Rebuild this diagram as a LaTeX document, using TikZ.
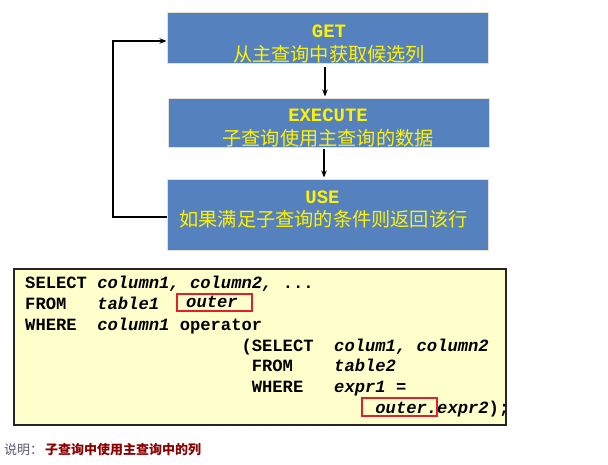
\documentclass[tikz,border=0pt]{standalone}
\usepackage{fontspec}
\setmonofont{Liberation Mono}
\newfontfamily\cjk{Noto Sans CJK SC}
\usetikzlibrary{arrows.meta}
\definecolor{boxblue}{HTML}{5581BF}
\definecolor{boxedge}{HTML}{E4E0D4}
\definecolor{codebg}{HTML}{FFFFCC}
\definecolor{hlred}{HTML}{E0202A}
\definecolor{noteRed}{HTML}{8B0000}
\definecolor{noteGray}{HTML}{5A5A70}
\begin{document}
\begin{tikzpicture}[x=1pt,y=-1pt,
 flowbox/.style={draw=boxedge,line width=1pt,fill=boxblue,minimum width=321pt,inner sep=0},
 head/.style={font=\ttfamily\bfseries\fontsize{18.9}{20}\selectfont,text=yellow,inner sep=0},
 cn/.style={font=\cjk\fontsize{19.2}{22}\selectfont,text=yellow,inner sep=0},
 arr/.style={-{Stealth[length=7pt,width=5.5pt]},line width=1.3pt},
 codeln/.style={font=\ttfamily\bfseries\fontsize{17.17}{20}\selectfont,anchor=base west,inner sep=0},
 hl/.style={draw=hlred,line width=1.5pt,inner sep=0}]
\fill[white] (0,0) rectangle (608,465);
\useasboundingbox (0,0) rectangle (608,465);
% flow boxes
\node[flowbox,minimum height=51pt] (b1) at (327.5,38.5) {};
\node[flowbox,minimum height=49pt] (b2) at (328.5,123.5) {};
\node[flowbox,minimum height=71pt] (b3) at (328,215.5) {};
\node[head] (t1) at (329,31) {GET};
\node[cn] (c1) at (329,54) {从主查询中获取候选列};
\node[head] (t2) at (328,115) {EXECUTE};
\node[cn] (c2) at (328,138) {子查询使用主查询的数据};
\node[head] (t3) at (322.5,197) {USE};
\node[cn] (c3) at (323.5,219) {如果满足子查询的条件则返回该行};
% connectors
\draw[arr,shorten <=3pt,shorten >=2pt] ([xshift=-2.5pt]b1.south) -- ([xshift=-2.5pt]b1.south |- b2.north);
\draw[arr,shorten <=1pt,shorten >=2pt] ([xshift=-4.5pt]b2.south) -- ([xshift=-4.5pt]b2.south |- b3.north);
\coordinate (lpb) at (113,217);
\coordinate (lpt) at (113,41);
\draw[arr] (b3.west |- lpb) -- (lpb) -- (lpt) -- (b1.west |- lpt);
% code box
\node[draw=black!85,line width=1.3pt,fill=codebg,minimum width=492pt,minimum height=156pt,inner sep=0] (code) at (260,347) {};
\node[codeln] (l1) at (25,289) {SELECT~\itshape column1,~column2,\upshape~...};
\node[codeln] (l2) at (25,309.7) {FROM~~~\itshape table1};
\node[codeln] (o1) at (186,307.5) {\itshape outer};
\node[hl,minimum width=75pt,minimum height=17pt] (h1) at (214.5,302.5) {};
\node[codeln] (l3) at (25,330.3) {WHERE~~\itshape column1\upshape~operator};
\node[codeln] (l4) at (241.3,351) {(SELECT~~\itshape colum1,~column2};
\node[codeln] (l5) at (251.6,371.7) {FROM~~~~\itshape table2};
\node[codeln] (l6) at (251.6,392.3) {WHERE~~~\itshape expr1\upshape~=};
\node[codeln] (l7) at (375.2,413) {\itshape outer.expr2\upshape);};
\node[hl,minimum width=75pt,minimum height=18pt] (h2) at (399.5,407) {};
% note
\node[font=\cjk\fontsize{13}{15}\selectfont,text=noteGray,anchor=west,inner sep=0] (n1) at (4,450) {说明：};
\node[font=\cjk\bfseries\fontsize{13}{15}\selectfont,text=noteRed,anchor=west,inner sep=0] (n2) at (45,450) {子查询中使用主查询中的列};
\end{tikzpicture}
\end{document}
